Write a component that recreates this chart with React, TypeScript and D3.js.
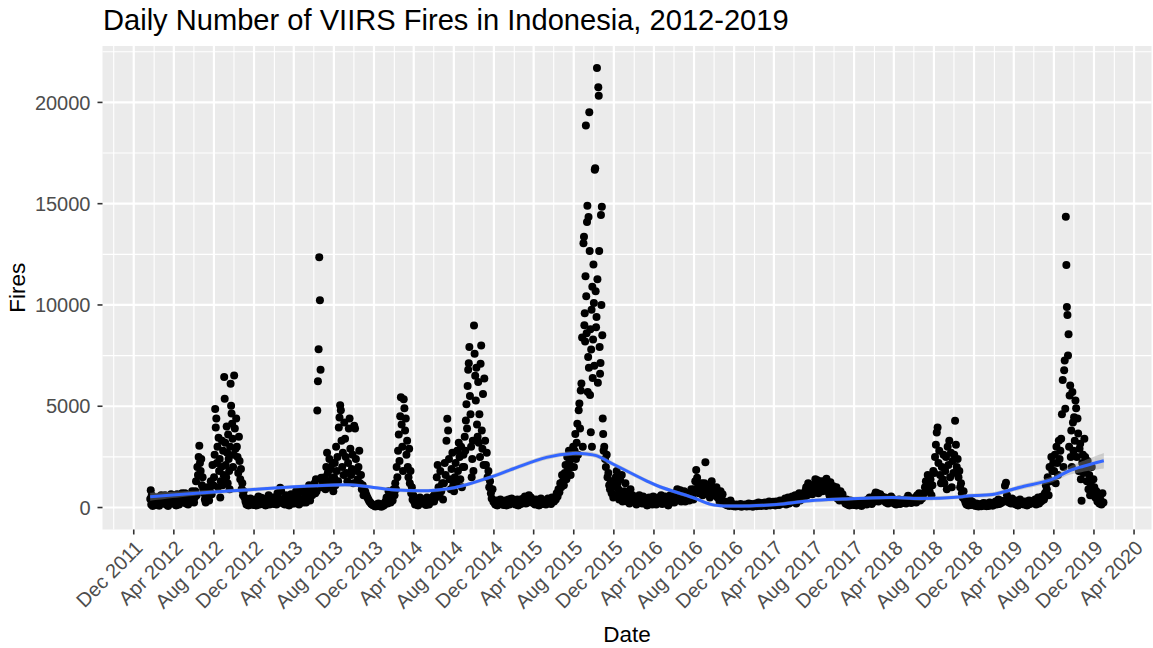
import React from "react";
import * as d3 from "d3";

const WIDTH = 1153;
const HEIGHT = 648;
const PANEL = { left: 102.5, right: 1151.5, top: 46, bottom: 529.5 };
const FONT = "'Liberation Sans', Arial, Helvetica, sans-serif";

const title = "Daily Number of VIIRS Fires in Indonesia, 2012-2019";
const xTitle = "Date";
const yTitle = "Fires";

const firstDate = "2012-01-20";
const lastDate = "2019-12-31";

// monthly daily-fire readings (each inner array = one month, in time order)
const fires2012: number[][] = [
  [420, 850, 150, 600, 250, 80, 380, 520],
  [300, 120, 450, 200, 520, 90, 350, 600, 250, 420],
  [250, 600, 150, 400, 80, 500, 320, 650, 200, 450],
  [200, 450, 100, 650, 300, 150, 520, 380, 700, 260],
  [350, 700, 200, 500, 150, 400, 600, 280, 800, 450],
  [250, 500, 800, 1300, 600, 2000, 1600, 2500, 3050, 2200, 1800, 2400, 1100, 1500, 900],
  [700, 400, 250, 600, 1000, 500, 350, 800, 1300, 650, 2100, 1100],
  [1500, 2600, 4870, 3950, 4400, 2200, 3000, 1000, 3450, 1800, 2400, 500, 1300, 2000, 3300, 1100, 2800, 1600],
  [6440, 5370, 3200, 2100, 1500, 4000, 2700, 1200, 3600, 2400, 1800, 900, 3000, 6110, 5030, 4640, 4130, 3400, 2000, 2600],
  [6520, 3900, 2900, 4400, 3000, 2500, 1700, 3500, 2300, 1400, 1900, 900, 1200, 600, 800],
  [500, 300, 150, 400, 100, 250, 450, 200, 350, 120],
  [200, 400, 100, 300, 550, 150, 250, 480, 180, 350],
];
const fires2013: number[][] = [
  [300, 100, 450, 200, 600, 150, 380, 250, 500, 180],
  [250, 500, 150, 700, 350, 450, 980, 820, 300, 200],
  [400, 150, 600, 250, 500, 100, 350, 650, 200, 450],
  [200, 500, 800, 300, 650, 150, 420, 900, 350, 250],
  [400, 700, 250, 900, 500, 1100, 350, 800, 600, 1000],
  [900, 1200, 700, 1400, 800, 4790, 6240, 7810, 12360, 10230, 6800, 1470, 1000, 1300, 1100],
  [1100, 1500, 900, 2000, 2700, 1700, 1200, 2400, 1000, 1900, 1400, 2200, 800],
  [1500, 2200, 1100, 3000, 1800, 2500, 1300, 3950, 4440, 5050, 4800, 3300, 2000, 2700, 1600],
  [4200, 3400, 2500, 1700, 1300, 2200, 3900, 4390, 2900, 1600, 1900, 2600, 1200],
  [4040, 3900, 2400, 1800, 1400, 2000, 2800, 1200, 1600, 900, 1100, 600],
  [900, 750, 600, 500, 400, 300, 250, 180, 150, 100],
  [100, 50, 150, 80, 200, 60, 120, 40, 170, 90],
];
const fires2014: number[][] = [
  [150, 300, 500, 200, 800, 400, 250, 650, 350, 900],
  [600, 1200, 900, 2000, 1500, 2800, 3600, 2300, 4500, 5450, 4100, 3000, 1800],
  [5350, 4900, 3800, 4400, 2600, 3300, 2000, 1500, 2900, 1200, 1800, 700, 1000, 400, 600],
  [300, 150, 450, 250, 100, 350, 500, 200, 400, 280],
  [200, 400, 120, 500, 250, 150, 350, 450, 300, 550],
  [300, 700, 500, 1500, 2100, 1000, 600, 1800, 800, 1200, 400],
  [1200, 2200, 1600, 3300, 4380, 3800, 2400, 1400, 900, 1900, 2700, 1100],
  [800, 1500, 2200, 1200, 2800, 1800, 3200, 2500, 1400, 3000, 1000, 2000, 2600],
  [2000, 3500, 2800, 4300, 5100, 3900, 6000, 6800, 7120, 7920, 5500, 4600, 3000, 1500, 2400, 3300, 1800],
  [8990, 7590, 6500, 5280, 6900, 4100, 3500, 6200, 3200, 4600, 2500, 7100, 8000, 3800, 2900, 5600, 2100],
  [6370, 3300, 2100, 2700, 1500, 1800, 1000, 1300, 700, 450, 900, 300],
  [250, 150, 350, 100, 200, 300, 400, 180, 280, 120],
];
const fires2015: number[][] = [
  [200, 350, 100, 250, 400, 150, 300, 450, 220, 380],
  [300, 150, 200, 400, 100, 250, 350, 180, 420, 280],
  [350, 550, 200, 450, 250, 600, 300, 500, 400, 220],
  [300, 150, 400, 200, 350, 100, 250, 450, 180, 320],
  [200, 350, 150, 300, 450, 250, 400, 180, 500, 300],
  [300, 500, 400, 700, 550, 900, 750, 1200, 1000, 1600, 1300],
  [1100, 1700, 2100, 1400, 2500, 1900, 2800, 2300, 1600, 2000, 2600, 3000],
  [2000, 2800, 3630, 2400, 3200, 4130, 2600, 4800, 5130, 3900, 5780, 6120, 8400, 3000, 13050],
  [13370, 9000, 9590, 8200, 11420, 18860, 10430, 8600, 14100, 14900, 5700, 7430, 14340, 6900, 19520, 12660, 5550, 8800, 3710, 7800, 9770, 3000, 10900, 6400, 8300, 12000],
  [10100, 7000, 16670, 16750, 10680, 8900, 9400, 21700, 11270, 6160, 20750, 20330, 12660, 7920, 6600, 7130, 14440, 10000, 14850, 8500, 4390, 3630, 2800],
  [3000, 2400, 2000, 2600, 1500, 1700, 1100, 900, 1300, 700, 1000, 500],
  [600, 1100, 1500, 1800, 1200, 900, 400, 1400, 700, 1600, 300, 500],
];
const fires2016: number[][] = [
  [800, 1200, 500, 300, 700, 200, 900, 450, 600, 350],
  [300, 500, 150, 400, 250, 600, 350, 450, 200, 550],
  [350, 200, 450, 100, 300, 500, 250, 400, 150, 550],
  [200, 400, 150, 300, 500, 250, 350, 600, 180, 450],
  [300, 550, 200, 450, 100, 350, 600, 250, 500, 400],
  [250, 500, 750, 900, 400, 600, 850, 300, 700, 550],
  [800, 300, 600, 450, 700, 350, 500, 900, 650, 400],
  [900, 1300, 1850, 1470, 1170, 700, 1000, 800, 1200, 600, 1100],
  [1200, 2230, 900, 1100, 700, 1000, 500, 800, 1300, 600, 950],
  [900, 700, 1000, 500, 600, 300, 800, 400, 650, 250],
  [300, 150, 250, 100, 200, 80, 350, 120, 180, 60],
  [100, 50, 150, 80, 120, 60, 180, 40, 90, 140],
];
const fires2017: number[][] = [
  [80, 150, 50, 120, 200, 60, 100, 170, 40, 130],
  [100, 200, 60, 150, 250, 90, 180, 70, 220, 120],
  [120, 250, 80, 200, 150, 300, 100, 230, 170, 280],
  [200, 100, 300, 150, 250, 120, 350, 180, 280, 220],
  [250, 450, 150, 350, 500, 200, 400, 300, 550, 280],
  [300, 600, 200, 500, 400, 700, 350, 650, 450, 550],
  [500, 800, 1000, 600, 1200, 900, 700, 1100, 650, 850],
  [1100, 1400, 900, 1350, 700, 1200, 1000, 1300, 800, 1150],
  [1300, 1000, 1420, 800, 1100, 600, 1250, 900, 700, 1050],
  [900, 600, 1000, 450, 700, 350, 800, 500, 650, 400],
  [300, 200, 400, 150, 250, 100, 350, 180, 280, 130],
  [150, 250, 100, 200, 300, 120, 220, 80, 180, 260],
];
const fires2018: number[][] = [
  [200, 300, 150, 400, 250, 500, 350, 180, 450, 280],
  [600, 740, 400, 700, 300, 500, 650, 450, 550, 350],
  [350, 500, 250, 450, 200, 400, 300, 550, 280, 420],
  [200, 350, 150, 300, 250, 400, 180, 330, 280, 220],
  [250, 400, 200, 350, 580, 300, 450, 220, 380, 320],
  [300, 500, 250, 600, 400, 700, 350, 550, 450, 650],
  [700, 1000, 1300, 900, 1600, 1200, 800, 1400, 600, 1100, 1800],
  [1700, 2500, 3100, 3700, 3950, 2200, 2800, 1600, 1200, 2000, 1400, 2600],
  [1200, 1800, 2500, 900, 3000, 2100, 3300, 1500, 2700, 1000, 2300, 1700],
  [2600, 4290, 3100, 2000, 2400, 1500, 1800, 1000, 1200, 700, 500, 800],
  [400, 250, 150, 300, 100, 200, 350, 120, 280, 180],
  [150, 80, 200, 100, 50, 120, 180, 60, 140, 220],
];
const fires2019: number[][] = [
  [100, 200, 60, 150, 80, 250, 120, 180, 90, 220],
  [200, 300, 150, 250, 400, 180, 350, 220, 280, 320],
  [300, 1070, 1220, 600, 400, 250, 350, 200, 450, 300],
  [200, 350, 150, 300, 100, 250, 400, 180, 280, 220],
  [150, 300, 200, 100, 250, 350, 180, 280, 220, 320],
  [250, 400, 150, 350, 500, 200, 450, 300, 550, 380],
  [400, 700, 1100, 900, 1500, 600, 2000, 1300, 2500, 1800, 2200],
  [1800, 2600, 1200, 3000, 2200, 1600, 3300, 2400, 2800, 3400, 4600, 6300, 2000],
  [6780, 7260, 4880, 14360, 11970, 9900, 9500, 7510, 8550, 3000, 5530, 6030, 2500, 3800, 2000, 5700, 4200, 2800],
  [4460, 3300, 5280, 4900, 2500, 4400, 3650, 1800, 2900, 3150, 1400, 330, 2200, 2600, 1700],
  [3400, 2500, 1900, 1300, 2300, 900, 1600, 600, 1100, 2000, 800, 1400],
  [1000, 500, 800, 300, 600, 200, 400, 150, 700, 250],
];
const years = [2012, 2013, 2014, 2015, 2016, 2017, 2018, 2019];
const firesByYear = [fires2012, fires2013, fires2014, fires2015, fires2016, fires2017, fires2018, fires2019];

// smoothed trend (loess)
const smoothDates = [
  "2012-01-20", "2012-06-18", "2012-11-18", "2013-04-19", "2013-07-15", "2013-09-27",
  "2013-12-19", "2014-02-10", "2014-05-15", "2014-07-09", "2014-08-28", "2014-11-18",
  "2015-01-27", "2015-05-10", "2015-07-29", "2015-09-10", "2015-10-09", "2015-11-28",
  "2016-03-09", "2016-04-19", "2016-07-28", "2016-09-18", "2016-10-20", "2017-01-15",
  "2017-04-09", "2017-07-19", "2017-10-28", "2018-03-29", "2018-06-19", "2018-10-18",
  "2018-11-17", "2019-01-26", "2019-04-18", "2019-07-28", "2019-09-17", "2019-12-31",
];
const smoothValues = [
  530, 720, 880, 1040, 1100, 1110,
  950, 860, 830, 910, 1075, 1485,
  1900, 2475, 2670, 2640, 2560, 2150,
  1320, 1025, 495, 170, 90, 80,
  150, 330, 415, 495, 440, 520,
  580, 640, 990, 1400, 1815, 2310,
];
const smoothSe = [
  200, 120, 100, 90, 90, 90,
  90, 90, 90, 90, 90, 100,
  110, 120, 120, 120, 120, 110,
  100, 100, 90, 90, 90, 90,
  90, 90, 90, 90, 100, 100,
  100, 110, 120, 150, 200, 380,
];

const yTicks = [0, 5000, 10000, 15000, 20000];
const xTickDates = [
  "2011-12-01", "2012-04-01", "2012-08-01", "2012-12-01", "2013-04-01", "2013-08-01",
  "2013-12-01", "2014-04-01", "2014-08-01", "2014-12-01", "2015-04-01", "2015-08-01",
  "2015-12-01", "2016-04-01", "2016-08-01", "2016-12-01", "2017-04-01", "2017-08-01",
  "2017-12-01", "2018-04-01", "2018-08-01", "2018-12-01", "2019-04-01", "2019-08-01",
  "2019-12-01", "2020-04-01",
];

const parse = (s: string) => new Date(s + "T00:00:00Z");
const DAY = 86400000;

type Pt = { date: Date; value: number };

function buildPoints(): Pt[] {
  const pts: Pt[] = [];
  const start = parse(firstDate);
  years.forEach((yr, yi) => {
    firesByYear[yi].forEach((vals, m) => {
      const monthStart = Date.UTC(yr, m, 1);
      const monthEnd = Date.UTC(yr, m + 1, 1);
      const from = Math.max(monthStart, start.getTime());
      const span = monthEnd - from;
      vals.forEach((v, i) => {
        const t = from + ((i + 0.5) / vals.length) * span - DAY / 2;
        pts.push({ date: new Date(t), value: v });
      });
    });
  });
  return pts;
}

export default function App() {
  const points = buildPoints();
  const d0 = parse(firstDate).getTime();
  const d1 = parse(lastDate).getTime();
  const xPad = (d1 - d0) * 0.05;
  const x = d3
    .scaleUtc()
    .domain([new Date(d0 - xPad), new Date(d1 + xPad)])
    .range([PANEL.left, PANEL.right]);

  const vMax = d3.max(points, (p) => p.value) as number;
  const vMin = 0;
  const yPad = (vMax - vMin) * 0.05;
  const y = d3
    .scaleLinear()
    .domain([vMin - yPad, vMax + yPad])
    .range([PANEL.bottom, PANEL.top]);

  const majorX = xTickDates.map(parse);
  const minorX = d3
    .utcMonths(x.domain()[0], x.domain()[1])
    .filter((d) => d.getUTCMonth() % 4 === 1);
  const minorY = [2500, 7500, 12500, 17500, 22500].filter(
    (v) => v > y.domain()[0] && v < y.domain()[1]
  );

  const smooth = smoothDates.map((d, i) => ({
    date: parse(d),
    v: smoothValues[i],
    se: smoothSe[i],
  }));
  const line = d3
    .line<{ date: Date; v: number }>()
    .x((d) => x(d.date))
    .y((d) => y(d.v))
    .curve(d3.curveCatmullRom.alpha(0.5));
  const area = d3
    .area<{ date: Date; v: number; se: number }>()
    .x((d) => x(d.date))
    .y0((d) => y(d.v - d.se))
    .y1((d) => y(d.v + d.se))
    .curve(d3.curveCatmullRom.alpha(0.5));

  const fmt = d3.utcFormat("%b %Y");

  return (
    <svg
      width={WIDTH}
      height={HEIGHT}
      style={{ position: "absolute", left: 0, top: 0, background: "#FFFFFF" }}
      fontFamily={FONT}
    >
      <rect x={0} y={0} width={WIDTH} height={HEIGHT} fill="#FFFFFF" />
      <rect
        x={PANEL.left}
        y={PANEL.top}
        width={PANEL.right - PANEL.left}
        height={PANEL.bottom - PANEL.top}
        fill="#EBEBEB"
      />
      <g stroke="#FFFFFF">
        {minorX.map((d, i) => (
          <line key={"mx" + i} x1={x(d)} x2={x(d)} y1={PANEL.top} y2={PANEL.bottom} strokeWidth={1.1} />
        ))}
        {minorY.map((v, i) => (
          <line key={"my" + i} x1={PANEL.left} x2={PANEL.right} y1={y(v)} y2={y(v)} strokeWidth={1.1} />
        ))}
        {majorX.map((d, i) => (
          <line key={"Mx" + i} x1={x(d)} x2={x(d)} y1={PANEL.top} y2={PANEL.bottom} strokeWidth={2.2} />
        ))}
        {yTicks.map((v, i) => (
          <line key={"My" + i} x1={PANEL.left} x2={PANEL.right} y1={y(v)} y2={y(v)} strokeWidth={2.2} />
        ))}
      </g>
      <g fill="#000000">
        {points.map((p, i) => (
          <circle key={i} cx={x(p.date)} cy={y(p.value)} r={4} />
        ))}
      </g>
      <path d={area(smooth) || ""} fill="#999999" fillOpacity={0.4} stroke="none" />
      <path d={line(smooth) || ""} fill="none" stroke="#3366FF" strokeWidth={3} />

      {/* y axis */}
      <g>
        {yTicks.map((v, i) => (
          <g key={i}>
            <line x1={PANEL.left - 5} x2={PANEL.left} y1={y(v)} y2={y(v)} stroke="#333333" strokeWidth={1.6} />
            <text
              x={PANEL.left - 12}
              y={y(v)}
              dy="0.36em"
              textAnchor="end"
              fontSize={20}
              fill="#4D4D4D"
            >
              {String(v)}
            </text>
          </g>
        ))}
      </g>
      {/* x axis */}
      <g>
        {majorX.map((d, i) => (
          <g key={i}>
            <line x1={x(d)} x2={x(d)} y1={PANEL.bottom} y2={PANEL.bottom + 5} stroke="#333333" strokeWidth={1.6} />
            <text
              transform={`translate(${x(d)},${PANEL.bottom + 9.5}) rotate(-45)`}
              dy="0.72em"
              textAnchor="end"
              fontSize={20}
              fill="#4D4D4D"
            >
              {fmt(d)}
            </text>
          </g>
        ))}
      </g>
      <text
        x={(PANEL.left + PANEL.right) / 2}
        y={642}
        textAnchor="middle"
        fontSize={22.5}
        fill="#000000"
      >
        {xTitle}
      </text>
      <text
        transform={`translate(25,${(PANEL.top + PANEL.bottom) / 2}) rotate(-90)`}
        textAnchor="middle"
        fontSize={22.5}
        fill="#000000"
      >
        {yTitle}
      </text>
      <text x={103} y={30} fontSize={29.1} fill="#000000">
        {title}
      </text>
    </svg>
  );
}
